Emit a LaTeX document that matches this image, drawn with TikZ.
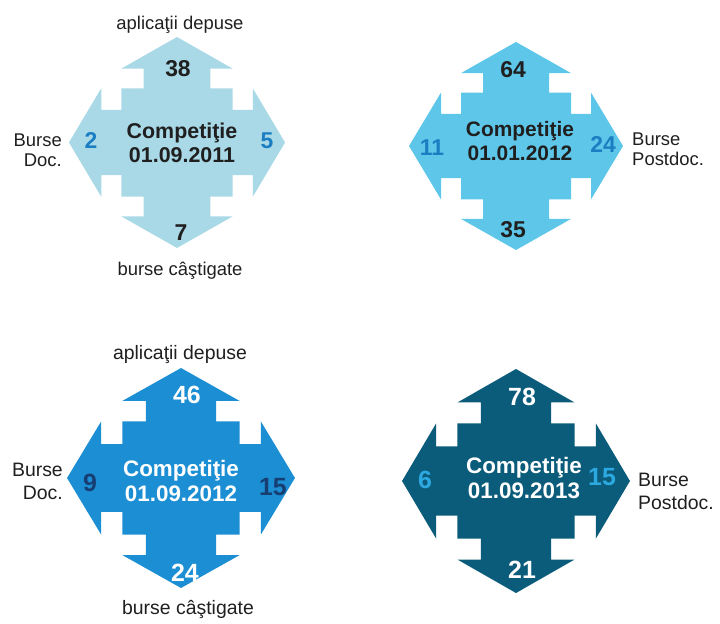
\documentclass[tikz,border=0pt]{standalone}
\usepackage{fontspec}
\setmainfont{Liberation Sans}
\definecolor{fillA}{HTML}{A9D9E7}
\definecolor{fillB}{HTML}{5EC6E8}
\definecolor{fillC}{HTML}{1C8ED3}
\definecolor{fillD}{HTML}{0B5B7B}
\definecolor{sideA}{HTML}{1B7EC2}
\definecolor{sideC}{HTML}{163E73}
\definecolor{sideD}{HTML}{2DA9E1}
\definecolor{ink}{HTML}{1F1F1F}
\newcommand\crossarrow[4]{%
  \fill[#4,shift={(#1)},xscale=#2,yscale=#3]
    (0,107) -- (55,75) -- (33,75) -- (33,55) -- (55,55) -- (55,33) -- (75,33) -- (75,55)
    -- (107,0) -- (75,-55) -- (75,-33) -- (55,-33) -- (55,-55) -- (33,-55) -- (33,-75) -- (55,-75)
    -- (0,-107) -- (-55,-75) -- (-33,-75) -- (-33,-55) -- (-55,-55) -- (-55,-33) -- (-75,-33) -- (-75,-55)
    -- (-107,0) -- (-75,55) -- (-75,33) -- (-55,33) -- (-55,55) -- (-33,55) -- (-33,75) -- (-55,75)
    -- cycle;}
\begin{document}
\begin{tikzpicture}[x=1bp,y=-1bp,
  lblA/.style={font=\fontsize{18.5}{20.5}\selectfont, text=ink, inner sep=0pt},
  lblB/.style={font=\fontsize{19.5}{23}\selectfont, text=ink, inner sep=0pt},
  numA/.style={font=\fontsize{23}{23}\selectfont\bfseries, inner sep=0pt},
  numB/.style={font=\fontsize{25}{25}\selectfont\bfseries, inner sep=0pt},
  ctr/.style={align=center, inner sep=0pt},
]
\useasboundingbox (0,0) rectangle (720,624);
% shapes
\crossarrow{177,142.5}{1.01}{0.986}{fillA}
\crossarrow{516,146}{1.0}{0.972}{fillB}
\crossarrow{181,478}{1.065}{1.028}{fillC}
\crossarrow{516,481}{1.065}{1.047}{fillD}
% competition 1
\node[lblA] (a1app) at (180,24.5) {aplicaţii depuse};
\node[lblA] (a1win) at (180,271) {burse câştigate};
\node[lblA, align=right, anchor=east] (a1doc) at (62,150.5) {Burse\\Doc.};
\node[numA, text=ink] (a1top) at (178,69) {38};
\node[numA, text=ink] (a1bot) at (181,233) {7};
\node[numA, text=sideA] (a1left) at (91,141) {2};
\node[numA, text=sideA] (a1right) at (267,141) {5};
\node[ctr, text=ink, font=\fontsize{21.5}{24}\selectfont\bfseries] (a1c) at (182,142.5) {Competiţie\\01.09.2011};
% competition 2
\node[lblA, align=left, anchor=west] (a2post) at (632,149.5) {Burse\\Postdoc.};
\node[numA, text=ink] (a2top) at (513,70) {64};
\node[numA, text=ink] (a2bot) at (513,230) {35};
\node[numA, text=sideA] (a2left) at (432,148) {11};
\node[numA, text=sideA] (a2right) at (603,145) {24};
\node[ctr, text=ink, font=\fontsize{21}{24}\selectfont\bfseries] (a2c) at (520,141) {Competiţie\\01.01.2012};
% competition 3
\node[lblB] (a3app) at (180,355) {aplicaţii depuse};
\node[lblB] (a3win) at (188,609) {burse câştigate};
\node[lblB, align=right, anchor=east] (a3doc) at (63,481.5) {Burse\\Doc.};
\node[numB, text=white] (a3top) at (187,395) {46};
\node[numB, text=white] (a3bot) at (185,573) {24};
\node[numB, text=sideC] (a3left) at (90,483) {9};
\node[numB, text=sideC] (a3right) at (273,487) {15};
\node[ctr, text=white, font=\fontsize{22.5}{26}\selectfont\bfseries] (a3c) at (181,481) {Competiţie\\01.09.2012};
% competition 4
\node[lblB, align=left, anchor=west] (a4post) at (638,491.5) {Burse\\Postdoc.};
\node[numB, text=white] (a4top) at (522,397) {78};
\node[numB, text=white] (a4bot) at (522,570) {21};
\node[numB, text=sideD] (a4left) at (425,480) {6};
\node[numB, text=sideD] (a4right) at (602,477) {15};
\node[ctr, text=white, font=\fontsize{22.5}{24.5}\selectfont\bfseries] (a4c) at (524,478) {Competiţie\\01.09.2013};
\end{tikzpicture}
\end{document}
